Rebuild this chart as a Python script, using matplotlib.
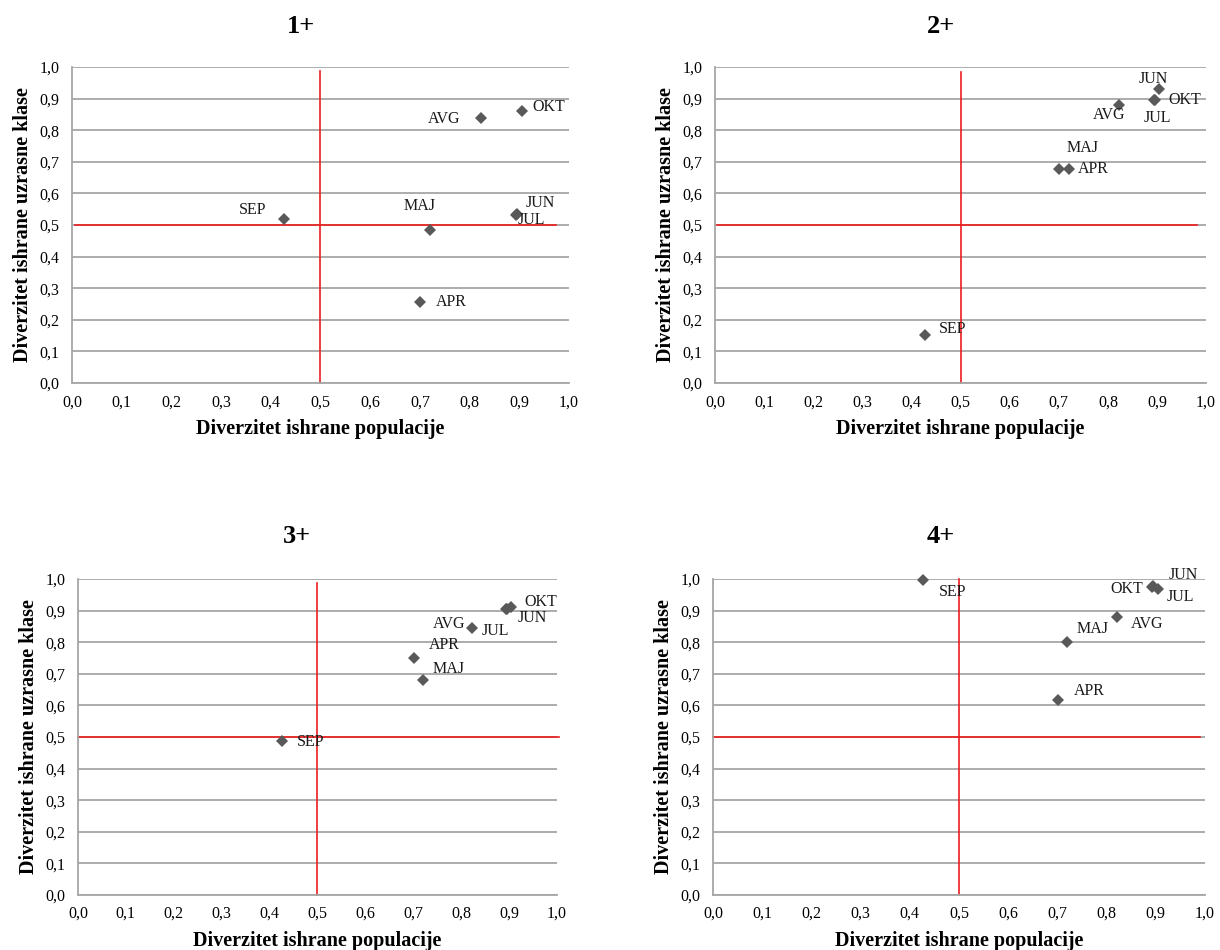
import matplotlib
matplotlib.use("Agg")
import matplotlib.pyplot as plt

plt.rcParams['font.family'] = ['Liberation Serif', 'DejaVu Serif']

# ---------------- data ----------------
MONTHS = ["APR", "MAJ", "JUN", "JUL", "AVG", "SEP", "OKT"]
POP_DIV = [0.701, 0.720, 0.895, 0.893, 0.822, 0.427, 0.905]   # x: Diverzitet ishrane populacije

PANEL_TITLES = ["1+", "2+", "3+", "4+"]
CLASS_DIV_1 = [0.258, 0.483, 0.536, 0.532, 0.840, 0.518, 0.860]
CLASS_DIV_2 = [0.676, 0.676, 0.897, 0.895, 0.881, 0.151, 0.931]
CLASS_DIV_3 = [0.751, 0.680, 0.906, 0.906, 0.844, 0.486, 0.911]
CLASS_DIV_4 = [0.618, 0.801, 0.977, 0.975, 0.879, 0.998, 0.969]
CLASS_DIV = [CLASS_DIV_1, CLASS_DIV_2, CLASS_DIV_3, CLASS_DIV_4]

TICKS = [0.0, 0.1, 0.2, 0.3, 0.4, 0.5, 0.6, 0.7, 0.8, 0.9, 1.0]
TICK_LABELS = ["0,0", "0,1", "0,2", "0,3", "0,4", "0,5", "0,6", "0,7", "0,8", "0,9", "1,0"]

XLABEL = "Diverzitet ishrane populacije"
YLABEL = "Diverzitet ishrane uzrasne klase"

# reference (threshold) lines at 0.5 (extent per panel)
THRESH = 0.5
VLINE_TOP = [0.987, 0.984, 0.987, 1.0]
HLINE_SPAN = [(0.007, 0.974), (0.004, 0.982), (0.0, 1.004), (0.0, 0.99)]

# ---------------- layout / style ----------------
AX_RECTS = [
    (0.0590, 0.5968, 0.4074, 0.3326),
    (0.5861, 0.5968, 0.4025, 0.3326),
    (0.0639, 0.0579, 0.3926, 0.3326),
    (0.5844, 0.0579, 0.4033, 0.3326),
]
TITLE_POS = [(0.247, 0.972), (0.771, 0.972), (0.243, 0.435), (0.771, 0.435)]

# label offsets (data units) per panel, in MONTHS order
LABEL_OFFSETS = [
    [(0.062, -0.002), (-0.020, 0.077), (0.047, 0.035), (0.032, -0.017),
     (-0.074, -0.003), (-0.063, 0.031), (0.055, 0.013)],
    [(0.069, 0.0), (0.029, 0.069), (-0.002, 0.064), (0.008, -0.055),
     (-0.020, -0.034), (0.057, 0.019), (0.052, -0.034)],
    [(0.064, 0.039), (0.053, 0.035), (0.053, -0.030), (-0.022, -0.072),
     (-0.047, 0.014), (0.059, -0.003), (0.062, 0.015)],
    [(0.063, 0.028), (0.051, 0.042), (0.060, 0.037), (0.056, -0.032),
     (0.061, -0.020), (0.061, -0.039), (-0.064, -0.001)],
]

GRID_COLOR = "#a6a6a6"
MARKER_COLOR = "#595959"
RED = "#ee1c1c"

fig = plt.figure(figsize=(12.2, 9.5), dpi=100)

for i in range(4):
    ax = fig.add_axes(AX_RECTS[i])
    ax.set_xlim(0, 1)
    ax.set_ylim(0, 1)
    ax.set_xticks(TICKS)
    ax.set_xticklabels(TICK_LABELS)
    ax.set_yticks(TICKS)
    ax.set_yticklabels(TICK_LABELS)
    ax.tick_params(axis='both', length=0, labelsize=11.5, colors='black')
    ax.tick_params(axis='y', pad=9)
    ax.tick_params(axis='x', pad=8)
    ax.grid(axis='y', color=GRID_COLOR, linewidth=1.3)
    ax.grid(axis='x', visible=False)
    ax.set_axisbelow(True)
    for s in ['top', 'right']:
        ax.spines[s].set_visible(False)
    for s in ['left', 'bottom']:
        ax.spines[s].set_color(GRID_COLOR)
        ax.spines[s].set_linewidth(1.3)

    # threshold lines
    ax.plot([THRESH, THRESH], [0, VLINE_TOP[i]], color=RED, lw=1.2, zorder=2,
            clip_on=False)
    ax.plot(list(HLINE_SPAN[i]), [THRESH, THRESH], color=RED, lw=1.2, zorder=2,
            clip_on=False)

    ys = CLASS_DIV[i]
    ax.plot(POP_DIV, ys, linestyle='none', marker='D', markersize=6.4,
            color=MARKER_COLOR, markeredgewidth=0, zorder=3, clip_on=False)

    for m, x, y, (dx, dy) in zip(MONTHS, POP_DIV, ys, LABEL_OFFSETS[i]):
        ax.text(x + dx, y + dy, m, ha='center', va='center', fontsize=11.5,
                color='#1a1a1a', zorder=4, clip_on=False)

    ax.set_xlabel(XLABEL, fontsize=14.5, fontweight='bold', labelpad=6.5)
    ax.set_ylabel(YLABEL, fontsize=14.5, fontweight='bold', labelpad=5)

    fig.text(TITLE_POS[i][0], TITLE_POS[i][1], PANEL_TITLES[i], ha='center',
             va='center', fontsize=19, fontweight='bold')

fig.savefig("out.png", dpi=100)
